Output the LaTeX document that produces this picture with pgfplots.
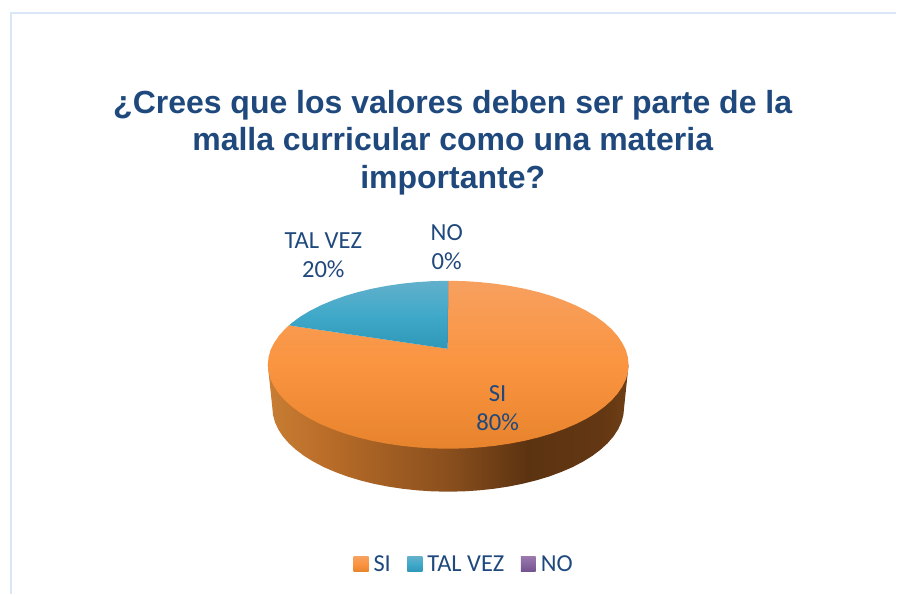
\documentclass[border=0pt]{standalone}
\usepackage{pgfplots}
\pgfplotsset{compat=1.18}
\usepackage{fontspec}
\setmainfont{Carlito}
\newfontfamily\titlefont{Liberation Sans}
\definecolor{txt}{HTML}{1F497D}
\definecolor{framec}{HTML}{D9E6F6}
\definecolor{sA}{HTML}{C87D33}
\definecolor{sB}{HTML}{B86C28}
\definecolor{sC}{HTML}{8A4F1D}
\definecolor{sD}{HTML}{5C3311}
\definecolor{sE}{HTML}{633713}
\definecolor{sF}{HTML}{6F3F16}
\definecolor{orT}{HTML}{F7A05F}
\definecolor{orM}{HTML}{FA9440}
\definecolor{orB}{HTML}{E8832D}
\definecolor{blT}{HTML}{62B0CB}
\definecolor{blM}{HTML}{40A9C9}
\definecolor{blB}{HTML}{2F98B8}
\definecolor{puT}{HTML}{9A78AE}
\definecolor{puB}{HTML}{74528F}
\pgfdeclarehorizontalshading{sideshade}{100bp}{color(0bp)=(sA);color(25bp)=(sA);color(33.6bp)=(sB);color(50bp)=(sC);color(61bp)=(sD);color(71bp)=(sE);color(75bp)=(sF);color(100bp)=(sF)}
\begin{document}
\begin{tikzpicture}
\begin{axis}[
  scale only axis, width=897pt, height=594pt,
  xmin=0, xmax=897, ymin=0, ymax=594, y dir=reverse,
  hide axis, clip=false,
  legend columns=3,
  legend style={draw=none, fill=none, at={(axis cs:464.5,564.5)}, anchor=center,
    font=\fontsize{24.4}{26}\selectfont\color{txt}, inner sep=0pt,
    /tikz/every even column/.append style={column sep=14.5pt}},
  legend image code/.code={\path[#1,draw=none] (0pt,-7.5pt) rectangle (15pt,7.5pt);\path (18pt,0pt);},
]
\path (axis cs:0,0) rectangle (axis cs:897,594);
% frame
\addplot[forget plot, framec, line width=1.2pt] coordinates {(11,594)(11,13)(897,13)};
% side wall
\addplot[forget plot, draw=none, shading=sideshade] coordinates {
(629,365)(268,365)(272.5,408)(273.2,415.3)(275.2,422.6)(278.5,429.7)(283.1,436.7)(289,443.5)(296.1,450)(304.3,456.2)(313.7,462)(324,467.4)(335.4,472.3)(347.5,476.8)(360.5,480.7)(374.1,484.1)(388.3,486.9)(402.9,489.1)(417.9,490.7)(433.2,491.7)(448.5,492)(463.8,491.7)(479.1,490.7)(494.1,489.1)(508.7,486.9)(522.9,484.1)(536.5,480.7)(549.5,476.8)(561.6,472.3)(573,467.4)(583.3,462)(592.7,456.2)(600.9,450)(608,443.5)(613.9,436.7)(618.5,429.7)(621.8,422.6)(623.8,415.3)(624.5,408)
} -- cycle;
% SI 80%
\addplot[draw=none, top color=orT, bottom color=orB, middle color=orM] coordinates {
(448,349)(448.5,281)(464.2,281.3)(479.8,282.3)(495.2,283.9)(510.2,286.1)(524.8,288.9)(538.8,292.3)(552,296.2)(564.5,300.7)(576.1,305.6)(586.8,311)(596.4,316.8)(604.8,323)(612.1,329.5)(618.1,336.3)(622.8,343.3)(626.3,350.4)(628.3,357.7)(629,365)(628.3,372.3)(626.3,379.6)(622.8,386.7)(618.1,393.7)(612.1,400.5)(604.8,407)(596.4,413.2)(586.8,419)(576.1,424.4)(564.5,429.3)(552,433.8)(538.8,437.7)(524.8,441.1)(510.2,443.9)(495.2,446.1)(479.8,447.7)(464.2,448.7)(448.5,449)(432.8,448.7)(417.2,447.7)(401.8,446.1)(386.8,443.9)(372.2,441.1)(358.2,437.7)(345,433.8)(332.5,429.3)(320.9,424.4)(310.2,419)(300.6,413.2)(292.2,407)(284.9,400.5)(278.9,393.7)(274.2,386.7)(270.7,379.6)(268.7,372.3)(268,365)(268.7,357.7)(270.7,350.4)(274.2,343.3)(278.9,336.3)(284.9,329.5)(289,325.6)
} -- cycle;
\addlegendentry{SI}
% TAL VEZ 20%
\addplot[draw=none, top color=blT, bottom color=blB, middle color=blM] coordinates {
(448,349)(289,325.6)(292.2,323)(300.6,316.8)(310.2,311)(320.9,305.6)(332.5,300.7)(345,296.2)(358.2,292.3)(372.2,288.9)(386.8,286.1)(401.8,283.9)(417.2,282.3)(432.8,281.3)(448.5,281)
} -- cycle;
\addlegendentry{TAL VEZ}
% NO 0%
\addplot[forget plot, draw=none, fill=puB] coordinates {(448,349)(448.5,281)(448.5,281)} -- cycle;
\addlegendimage{top color=puT, bottom color=puB}
\addlegendentry{NO}
% texts
\node[font=\titlefont\bfseries\fontsize{32}{37.5}\selectfont, text=txt, align=center, anchor=center] at (axis cs:453,142.5) {¿Crees que los valores deben ser parte de la\\malla curricular como una materia\\importante?};
\node[font=\fontsize{24.6}{29}\selectfont, text=txt, align=center] at (axis cs:323.5,255.5) {TAL VEZ\\20\%};
\node[font=\fontsize{24.6}{29}\selectfont, text=txt, align=center] at (axis cs:447,247.5) {NO\\0\%};
\node[font=\fontsize{24.6}{29}\selectfont, text=txt, align=center] at (axis cs:498,408.5) {SI\\80\%};
\end{axis}
\end{tikzpicture}
\end{document}
